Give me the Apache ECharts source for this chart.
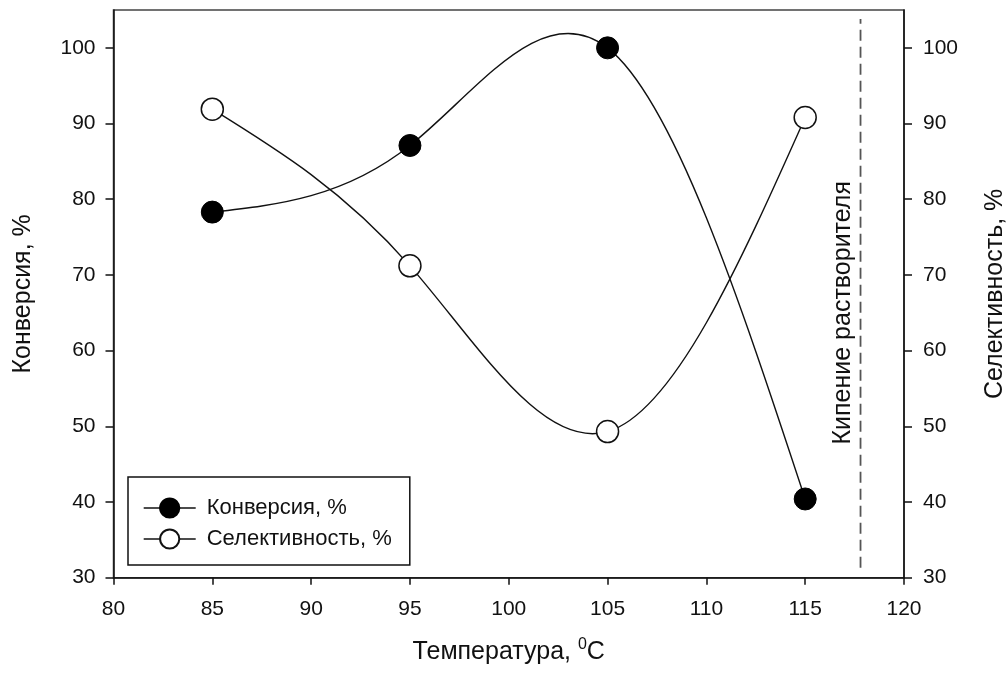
<!DOCTYPE html>
<html>
<head>
<meta charset="utf-8">
<script src="https://cdn.jsdelivr.net/npm/echarts@6/dist/echarts.min.js"></script>
<style>
html,body{margin:0;padding:0;background:#fff;}
#chart{width:1008px;height:674px;}
</style>
</head>
<body>
<div id="chart"></div>
<script>
// ---- data ----
var temperatures = [85, 95, 105, 115];
var conversion = [78.3, 87.1, 100, 40.4];
var selectivity = [91.9, 71.2, 49.3, 90.8];
var xTicks = [80, 85, 90, 95, 100, 105, 110, 115, 120];
var yTicks = [30, 40, 50, 60, 70, 80, 90, 100];
var boilingTemp = 117.8;
var boilingLineRange = [31.3, 103.8];
var boilingLabelPos = [116.9, 65.0];
var boilingText = 'Кипение растворителя';
var seriesNames = ['Конверсия, %', 'Селективность, %'];

// ---- chart ----
var FONT = '"Liberation Sans", Arial, sans-serif';
var chart = echarts.init(document.getElementById('chart'), null, {renderer: 'canvas'});

function pairs(xs, ys) { return xs.map(function (x, i) { return [x, ys[i]]; }); }

// natural cubic spline second derivatives (the way the original plotting tool joins points)
function splineSecondDerivs(xs, ys) {
  var n = xs.length, M = new Array(n).fill(0);
  if (n < 3) return M;
  var a = [], b = [], c = [], d = [];
  for (var i = 1; i < n - 1; i++) {
    var h0 = xs[i] - xs[i - 1], h1 = xs[i + 1] - xs[i];
    a.push(h0); b.push(2 * (h0 + h1)); c.push(h1);
    d.push(6 * ((ys[i + 1] - ys[i]) / h1 - (ys[i] - ys[i - 1]) / h0));
  }
  var m = b.length;
  for (var k = 1; k < m; k++) {
    var w = a[k] / b[k - 1];
    b[k] -= w * c[k - 1]; d[k] -= w * d[k - 1];
  }
  var sol = new Array(m);
  sol[m - 1] = d[m - 1] / b[m - 1];
  for (var k2 = m - 2; k2 >= 0; k2--) sol[k2] = (d[k2] - c[k2] * sol[k2 + 1]) / b[k2];
  for (var j = 0; j < m; j++) M[j + 1] = sol[j];
  return M;
}

function splineSeries(name, xs, ys, yAxisIndex) {
  var M = splineSecondDerivs(xs, ys);
  return {
    name: name, type: 'custom', yAxisIndex: yAxisIndex,
    data: pairs(xs, ys), encode: {x: 0, y: 1},
    silent: true, z: 2,
    renderItem: function (params, api) {
      var i = params.dataIndex;
      if (i >= xs.length - 1) return null;
      var h = xs[i + 1] - xs[i];
      var s = (ys[i + 1] - ys[i]) / h;
      var d0 = s - h * (2 * M[i] + M[i + 1]) / 6;
      var d1 = s + h * (M[i] + 2 * M[i + 1]) / 6;
      var p0 = api.coord([xs[i], ys[i]]);
      var p1 = api.coord([xs[i + 1], ys[i + 1]]);
      var c0 = api.coord([xs[i] + h / 3, ys[i] + h / 3 * d0]);
      var c1 = api.coord([xs[i + 1] - h / 3, ys[i + 1] - h / 3 * d1]);
      return {
        type: 'bezierCurve',
        shape: {x1: p0[0], y1: p0[1], x2: p1[0], y2: p1[1], cpx1: c0[0], cpy1: c0[1], cpx2: c1[0], cpy2: c1[1]},
        style: {stroke: '#111', lineWidth: 1.4, fill: 'none'}
      };
    }
  };
}

var yAxisCommon = {
  type: 'value', min: 30, max: 105,
  nameLocation: 'middle', nameRotate: 90,
  nameTextStyle: {fontFamily: FONT, fontSize: 25, color: '#111'},
  axisLine: {show: true, lineStyle: {color: '#111', width: 1.5}},
  axisTick: {show: true, inside: false, length: 8, customValues: yTicks, lineStyle: {color: '#111', width: 1.5}},
  axisLabel: {fontFamily: FONT, fontSize: 21, color: '#111', margin: 18, customValues: yTicks},
  splitLine: {show: false}
};

var option = {
  animation: false,
  backgroundColor: '#fff',
  grid: {left: 113.5, right: 104, top: 10, bottom: 96.3, outerBoundsMode: 'none', containLabel: false,
    show: true, borderColor: '#444', borderWidth: 1.5, backgroundColor: 'transparent'},
  xAxis: {
    type: 'value', min: 80, max: 120, interval: 5,
    name: 'Температура, {sup|0}C',
    nameLocation: 'middle', nameGap: 59,
    nameTextStyle: {fontFamily: FONT, fontSize: 25, color: '#111', lineHeight: 30,
      rich: {sup: {fontFamily: FONT, fontSize: 16, color: '#111', verticalAlign: 'top', lineHeight: 18}}},
    axisLine: {show: true, onZero: false, lineStyle: {color: '#111', width: 1.5}},
    axisTick: {show: true, inside: false, length: 7, customValues: xTicks, lineStyle: {color: '#111', width: 1.5}},
    axisLabel: {fontFamily: FONT, fontSize: 21, color: '#111', margin: 21, customValues: xTicks},
    splitLine: {show: false}
  },
  yAxis: [
    Object.assign({}, yAxisCommon, {position: 'left', name: seriesNames[0], nameGap: 78}),
    Object.assign({}, yAxisCommon, {position: 'right', name: 'Селективность, %', nameGap: 79,
      axisLabel: Object.assign({}, yAxisCommon.axisLabel, {margin: 19})})
  ],
  legend: {
    orient: 'vertical', left: 128, top: 477,
    selectedMode: false,
    data: seriesNames,
    itemWidth: 52, itemHeight: 24, itemGap: 9,
    padding: [20, 18, 15, 15],
    borderColor: '#111', borderWidth: 1.5, backgroundColor: '#fff',
    lineStyle: {color: '#111', width: 1.4, opacity: 1, type: 'solid'},
    textStyle: {fontFamily: FONT, fontSize: 22, color: '#111', padding: [0, 0, 0, 6]}
  },
  series: [
    splineSeries('conversionCurve', temperatures, conversion, 0),
    splineSeries('selectivityCurve', temperatures, selectivity, 1),
    {
      name: seriesNames[0], type: 'line', yAxisIndex: 0,
      data: pairs(temperatures, conversion),
      symbol: 'circle', symbolSize: 22,
      lineStyle: {color: '#111', width: 1.4, opacity: 0},
      itemStyle: {color: '#000', borderColor: '#000', borderWidth: 1},
      z: 3
    },
    {
      name: seriesNames[1], type: 'line', yAxisIndex: 1,
      data: pairs(temperatures, selectivity),
      symbol: 'circle', symbolSize: 22,
      lineStyle: {color: '#111', width: 1.4, opacity: 0},
      itemStyle: {color: '#fff', borderColor: '#111', borderWidth: 1.5},
      z: 3
    },
    {
      name: 'boiling', type: 'line', yAxisIndex: 0,
      data: [[boilingTemp, boilingLineRange[0]], [boilingTemp, boilingLineRange[1]]],
      symbol: 'none',
      lineStyle: {color: '#555', width: 1.8, type: [11, 6]},
      silent: true, z: 2
    },
    {
      name: 'boilingLabel', type: 'scatter', yAxisIndex: 0,
      data: [boilingLabelPos],
      symbolSize: 1,
      itemStyle: {color: 'transparent', opacity: 1},
      label: {show: true, position: 'inside', rotate: 90, formatter: boilingText,
        fontFamily: FONT, fontSize: 25, color: '#111', opacity: 1},
      silent: true, z: 2
    }
  ]
};
chart.setOption(option);
</script>
</body>
</html>
